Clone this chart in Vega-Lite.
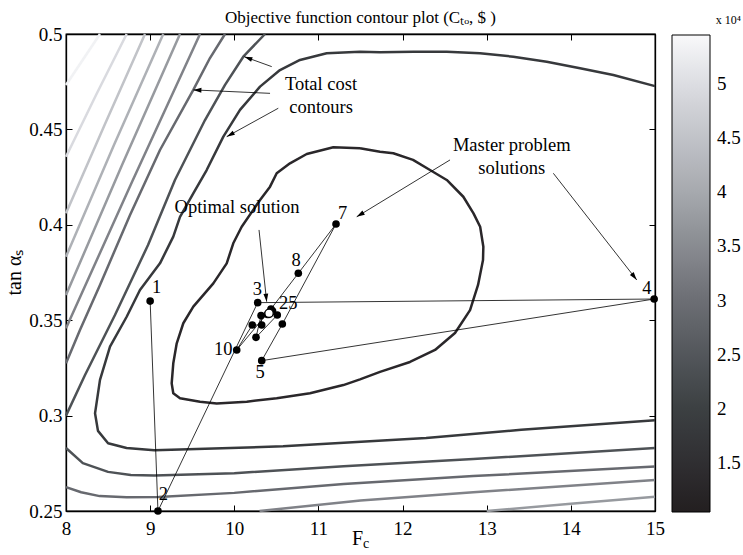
{
  "$schema": "https://vega.github.io/schema/vega-lite/v6.json",
  "width": 589,
  "height": 477,
  "autosize": {"type": "none"},
  "padding": {"left": 66, "top": 34, "right": 88, "bottom": 44},
  "background": "white",
  "title": {"text": "Objective function contour plot (Cₜₒ, $ )", "fontSize": 17, "font": "Liberation Serif", "fontWeight": "normal", "color": "#000", "offset": -12},
  "datasets": {
    "contours": [
      {"c":"L1","lvl":1.3,"i":0,"x":11.494,"y":0.4401},
      {"c":"L1","lvl":1.3,"i":1,"x":11.177,"y":0.4406},
      {"c":"L1","lvl":1.3,"i":2,"x":10.861,"y":0.4371},
      {"c":"L1","lvl":1.3,"i":3,"x":10.662,"y":0.4322},
      {"c":"L1","lvl":1.3,"i":4,"x":10.504,"y":0.427},
      {"c":"L1","lvl":1.3,"i":5,"x":10.425,"y":0.42},
      {"c":"L1","lvl":1.3,"i":6,"x":10.306,"y":0.413},
      {"c":"L1","lvl":1.3,"i":7,"x":10.088,"y":0.399},
      {"c":"L1","lvl":1.3,"i":8,"x":9.988,"y":0.3903},
      {"c":"L1","lvl":1.3,"i":9,"x":9.91,"y":0.3798},
      {"c":"L1","lvl":1.3,"i":10,"x":9.751,"y":0.3693},
      {"c":"L1","lvl":1.3,"i":11,"x":9.513,"y":0.3571},
      {"c":"L1","lvl":1.3,"i":12,"x":9.394,"y":0.3484},
      {"c":"L1","lvl":1.3,"i":13,"x":9.316,"y":0.3379},
      {"c":"L1","lvl":1.3,"i":14,"x":9.275,"y":0.3274},
      {"c":"L1","lvl":1.3,"i":15,"x":9.256,"y":0.3169},
      {"c":"L1","lvl":1.3,"i":16,"x":9.275,"y":0.3117},
      {"c":"L1","lvl":1.3,"i":17,"x":9.355,"y":0.3091},
      {"c":"L1","lvl":1.3,"i":18,"x":9.593,"y":0.3073},
      {"c":"L1","lvl":1.3,"i":19,"x":9.791,"y":0.3064},
      {"c":"L1","lvl":1.3,"i":20,"x":10.148,"y":0.3073},
      {"c":"L1","lvl":1.3,"i":21,"x":10.504,"y":0.3091},
      {"c":"L1","lvl":1.3,"i":22,"x":10.9,"y":0.3117},
      {"c":"L1","lvl":1.3,"i":23,"x":11.296,"y":0.316},
      {"c":"L1","lvl":1.3,"i":24,"x":11.494,"y":0.319},
      {"c":"L1","lvl":1.3,"i":25,"x":11.732,"y":0.3229},
      {"c":"L1","lvl":1.3,"i":26,"x":12.088,"y":0.3281},
      {"c":"L1","lvl":1.3,"i":27,"x":12.386,"y":0.3344},
      {"c":"L1","lvl":1.3,"i":28,"x":12.623,"y":0.3433},
      {"c":"L1","lvl":1.3,"i":29,"x":12.802,"y":0.3553},
      {"c":"L1","lvl":1.3,"i":30,"x":12.897,"y":0.3685},
      {"c":"L1","lvl":1.3,"i":31,"x":12.956,"y":0.3816},
      {"c":"L1","lvl":1.3,"i":32,"x":12.96,"y":0.3885},
      {"c":"L1","lvl":1.3,"i":33,"x":12.922,"y":0.399},
      {"c":"L1","lvl":1.3,"i":34,"x":12.843,"y":0.406},
      {"c":"L1","lvl":1.3,"i":35,"x":12.722,"y":0.4147},
      {"c":"L1","lvl":1.3,"i":36,"x":12.525,"y":0.4235},
      {"c":"L1","lvl":1.3,"i":37,"x":12.326,"y":0.4287},
      {"c":"L1","lvl":1.3,"i":38,"x":12.124,"y":0.434},
      {"c":"L1","lvl":1.3,"i":39,"x":11.89,"y":0.4375},
      {"c":"L1","lvl":1.3,"i":40,"x":11.732,"y":0.4383},
      {"c":"L1","lvl":1.3,"i":41,"x":11.494,"y":0.4401},
      {"c":"L2","lvl":1.8,"i":0,"x":15,"y":0.4727},
      {"c":"L2","lvl":1.8,"i":1,"x":14.505,"y":0.4785},
      {"c":"L2","lvl":1.8,"i":2,"x":14.109,"y":0.482},
      {"c":"L2","lvl":1.8,"i":3,"x":13.713,"y":0.4855},
      {"c":"L2","lvl":1.8,"i":4,"x":13.316,"y":0.4881},
      {"c":"L2","lvl":1.8,"i":5,"x":12.92,"y":0.4899},
      {"c":"L2","lvl":1.8,"i":6,"x":12.525,"y":0.4907},
      {"c":"L2","lvl":1.8,"i":7,"x":12.128,"y":0.4907},
      {"c":"L2","lvl":1.8,"i":8,"x":11.732,"y":0.4904},
      {"c":"L2","lvl":1.8,"i":9,"x":11.494,"y":0.4907},
      {"c":"L2","lvl":1.8,"i":10,"x":11.098,"y":0.4899},
      {"c":"L2","lvl":1.8,"i":11,"x":10.781,"y":0.4864},
      {"c":"L2","lvl":1.8,"i":12,"x":10.543,"y":0.4811},
      {"c":"L2","lvl":1.8,"i":13,"x":10.306,"y":0.4724},
      {"c":"L2","lvl":1.8,"i":14,"x":10.068,"y":0.4602},
      {"c":"L2","lvl":1.8,"i":15,"x":9.87,"y":0.4462},
      {"c":"L2","lvl":1.8,"i":16,"x":9.672,"y":0.4287},
      {"c":"L2","lvl":1.8,"i":17,"x":9.513,"y":0.4165},
      {"c":"L2","lvl":1.8,"i":18,"x":9.355,"y":0.4042},
      {"c":"L2","lvl":1.8,"i":19,"x":9.275,"y":0.3938},
      {"c":"L2","lvl":1.8,"i":20,"x":9.117,"y":0.3798},
      {"c":"L2","lvl":1.8,"i":21,"x":8.879,"y":0.3658},
      {"c":"L2","lvl":1.8,"i":22,"x":8.721,"y":0.3518},
      {"c":"L2","lvl":1.8,"i":23,"x":8.523,"y":0.3361},
      {"c":"L2","lvl":1.8,"i":24,"x":8.404,"y":0.3187},
      {"c":"L2","lvl":1.8,"i":25,"x":8.345,"y":0.3012},
      {"c":"L2","lvl":1.8,"i":26,"x":8.38,"y":0.292},
      {"c":"L2","lvl":1.8,"i":27,"x":8.5,"y":0.2855},
      {"c":"L2","lvl":1.8,"i":28,"x":8.72,"y":0.283},
      {"c":"L2","lvl":1.8,"i":29,"x":9.05,"y":0.2818},
      {"c":"L2","lvl":1.8,"i":30,"x":10.58,"y":0.2839},
      {"c":"L2","lvl":1.8,"i":31,"x":12.28,"y":0.2882},
      {"c":"L2","lvl":1.8,"i":32,"x":13.41,"y":0.2926},
      {"c":"L2","lvl":1.8,"i":33,"x":15,"y":0.2975},
      {"c":"L3a","lvl":2.4,"i":0,"x":10.365,"y":0.5},
      {"c":"L3a","lvl":2.4,"i":1,"x":10.107,"y":0.4881},
      {"c":"L3a","lvl":2.4,"i":2,"x":9.89,"y":0.4733},
      {"c":"L3a","lvl":2.4,"i":3,"x":9.652,"y":0.4549},
      {"c":"L3a","lvl":2.4,"i":4,"x":9.295,"y":0.4235},
      {"c":"L3a","lvl":2.4,"i":5,"x":8.975,"y":0.3894},
      {"c":"L3a","lvl":2.4,"i":6,"x":8.582,"y":0.3527},
      {"c":"L3a","lvl":2.4,"i":7,"x":8.226,"y":0.3213},
      {"c":"L3a","lvl":2.4,"i":8,"x":8,"y":0.3},
      {"c":"L3b","lvl":2.4,"i":0,"x":8,"y":0.283},
      {"c":"L3b","lvl":2.4,"i":1,"x":8.2,"y":0.2751},
      {"c":"L3b","lvl":2.4,"i":2,"x":8.5,"y":0.2705},
      {"c":"L3b","lvl":2.4,"i":3,"x":8.77,"y":0.2689},
      {"c":"L3b","lvl":2.4,"i":4,"x":9.05,"y":0.2686},
      {"c":"L3b","lvl":2.4,"i":5,"x":10,"y":0.2698},
      {"c":"L3b","lvl":2.4,"i":6,"x":11.3,"y":0.2735},
      {"c":"L3b","lvl":2.4,"i":7,"x":12.84,"y":0.2772},
      {"c":"L3b","lvl":2.4,"i":8,"x":15,"y":0.283},
      {"c":"L4a","lvl":2.9,"i":0,"x":9.89,"y":0.5},
      {"c":"L4a","lvl":2.9,"i":1,"x":9.711,"y":0.4874},
      {"c":"L4a","lvl":2.9,"i":2,"x":9.513,"y":0.4707},
      {"c":"L4a","lvl":2.9,"i":3,"x":9.117,"y":0.4392},
      {"c":"L4a","lvl":2.9,"i":4,"x":8.761,"y":0.4051},
      {"c":"L4a","lvl":2.9,"i":5,"x":8.404,"y":0.3685},
      {"c":"L4a","lvl":2.9,"i":6,"x":8.166,"y":0.3449},
      {"c":"L4a","lvl":2.9,"i":7,"x":8,"y":0.3274},
      {"c":"L4b","lvl":2.9,"i":0,"x":8,"y":0.2625},
      {"c":"L4b","lvl":2.9,"i":1,"x":8.18,"y":0.2598},
      {"c":"L4b","lvl":2.9,"i":2,"x":8.4,"y":0.2578},
      {"c":"L4b","lvl":2.9,"i":3,"x":8.72,"y":0.2572},
      {"c":"L4b","lvl":2.9,"i":4,"x":9.1,"y":0.2573},
      {"c":"L4b","lvl":2.9,"i":5,"x":10,"y":0.2595},
      {"c":"L4b","lvl":2.9,"i":6,"x":11.3,"y":0.2642},
      {"c":"L4b","lvl":2.9,"i":7,"x":12.84,"y":0.2683},
      {"c":"L4b","lvl":2.9,"i":8,"x":15,"y":0.2733},
      {"c":"U5a","lvl":3.35,"i":0,"x":9.593,"y":0.5},
      {"c":"U5a","lvl":3.35,"i":1,"x":8.784,"y":0.4224},
      {"c":"U5a","lvl":3.35,"i":2,"x":8,"y":0.3458},
      {"c":"U5b","lvl":3.35,"i":0,"x":10.3,"y":0.25},
      {"c":"U5b","lvl":3.35,"i":1,"x":11.5,"y":0.2555},
      {"c":"U5b","lvl":3.35,"i":2,"x":12.84,"y":0.2598},
      {"c":"U5b","lvl":3.35,"i":3,"x":15,"y":0.2663},
      {"c":"U4a","lvl":3.75,"i":0,"x":9.355,"y":0.5},
      {"c":"U4a","lvl":3.75,"i":1,"x":8.666,"y":0.4313},
      {"c":"U4a","lvl":3.75,"i":2,"x":8,"y":0.3632},
      {"c":"U4b","lvl":3.75,"i":0,"x":13.0,"y":0.25},
      {"c":"U4b","lvl":3.75,"i":1,"x":14,"y":0.2538},
      {"c":"U4b","lvl":3.75,"i":2,"x":15,"y":0.2575},
      {"c":"U3","lvl":4.15,"i":0,"x":9.156,"y":0.5},
      {"c":"U3","lvl":4.15,"i":1,"x":8.57,"y":0.4418},
      {"c":"U3","lvl":4.15,"i":2,"x":8,"y":0.3833},
      {"c":"U2","lvl":4.5,"i":0,"x":8.939,"y":0.5},
      {"c":"U2","lvl":4.5,"i":1,"x":8.4635,"y":0.4528},
      {"c":"U2","lvl":4.5,"i":2,"x":8,"y":0.406},
      {"c":"U1","lvl":4.95,"i":0,"x":8.721,"y":0.5},
      {"c":"U1","lvl":4.95,"i":1,"x":8.357,"y":0.468},
      {"c":"U1","lvl":4.95,"i":2,"x":8,"y":0.4357},
      {"c":"U0","lvl":5.35,"i":0,"x":8.404,"y":0.5},
      {"c":"U0","lvl":5.35,"i":1,"x":8,"y":0.4733}
    ],
    "path": [
      {"k":1,"x":9.0,"y":0.36},
      {"k":2,"x":9.093,"y":0.25},
      {"k":3,"x":10.278,"y":0.3592},
      {"k":4,"x":14.99,"y":0.3611},
      {"k":5,"x":10.326,"y":0.3288},
      {"k":6,"x":10.571,"y":0.348},
      {"k":7,"x":11.209,"y":0.4004},
      {"k":8,"x":10.761,"y":0.3746},
      {"k":9,"x":10.436,"y":0.3559},
      {"k":10,"x":10.029,"y":0.3344},
      {"k":11,"x":10.214,"y":0.3475},
      {"k":12,"x":10.326,"y":0.3475},
      {"k":13,"x":10.318,"y":0.3524},
      {"k":14,"x":10.258,"y":0.341},
      {"k":15,"x":10.511,"y":0.3527},
      {"k":16,"x":10.455,"y":0.3548},
      {"k":17,"x":10.395,"y":0.353},
      {"k":18,"x":10.43,"y":0.3541},
      {"k":19,"x":10.405,"y":0.3534},
      {"k":20,"x":10.42,"y":0.3538},
      {"k":21,"x":10.41,"y":0.3535},
      {"k":22,"x":10.415,"y":0.3537},
      {"k":23,"x":10.412,"y":0.3535},
      {"k":24,"x":10.414,"y":0.3536},
      {"k":25,"x":10.413,"y":0.3536}
    ],
    "arrows": [
      {"x":10.445,"y":0.4829,"x2":10.119,"y2":0.4881,"heading":289.9},
      {"x":10.425,"y":0.4689,"x2":9.513,"y2":0.4707,"heading":272.5},
      {"x":10.523,"y":0.4611,"x2":9.91,"y2":0.4462,"heading":241.2},
      {"x":10.294,"y":0.3973,"x2":10.385,"y2":0.3597,"heading":173.9},
      {"x":12.564,"y":0.434,"x2":11.455,"y2":0.4042,"heading":238.7},
      {"x":13.792,"y":0.427,"x2":14.783,"y2":0.3711,"heading":142}
    ],
    "notes": [
      {"text":"Total cost","x":11.031,"y":0.4738},
      {"text":"contours","x":11.031,"y":0.4617},
      {"text":"Optimal solution","x":10.032,"y":0.4093},
      {"text":"Master problem","x":13.297,"y":0.4418},
      {"text":"solutions","x":13.297,"y":0.4298}
    ],
    "labels": [
      {"text":"1","x":9.078,"y":0.3676},
      {"text":"2","x":9.156,"y":0.2589},
      {"text":"3","x":10.274,"y":0.3662},
      {"text":"4","x":14.902,"y":0.3667},
      {"text":"5","x":10.306,"y":0.323},
      {"text":"7","x":11.289,"y":0.406},
      {"text":"8","x":10.734,"y":0.3816},
      {"text":"10","x":9.87,"y":0.3347},
      {"text":"25","x":10.642,"y":0.3589}
    ]
  },
  "resolve": {"axis": {"x": "independent", "y": "independent"}},
  "layer": [
    {
      "data": {"name": "contours"},
      "mark": {"type": "line", "strokeWidth": 2.5, "strokeJoin": "round"},
      "encoding": {
        "x": {"field": "x", "type": "quantitative", "scale": {"domain": [8, 15], "nice": false, "zero": false},
              "axis": {"orient": "bottom", "values": [8,9,10,11,12,13,14,15], "title": "F", "tickSize": -6, "labelPadding": 14, "titleX": 291, "titleY": 33, "titleBaseline": "alphabetic"}},
        "y": {"field": "y", "type": "quantitative", "scale": {"domain": [0.25, 0.5], "nice": false, "zero": false},
              "axis": {"orient": "left", "values": [0.25,0.3,0.35,0.4,0.45,0.5], "format": ".2~f", "title": "tan αₛ", "tickSize": -6, "labelPadding": 10, "titleX": -42, "titleY": 238}},
        "color": {"field": "lvl", "type": "quantitative",
                  "scale": {"domain": [1.043, 2, 3, 4, 5, 5.457], "range": ["#231f20", "#3c4042", "#6c6e74", "#a6a9ae", "#dcdde2", "#f8f8fa"]},
                  "legend": {"orient": "none", "legendX": 606, "legendY": -19, "direction": "vertical", "gradientLength": 477, "gradientThickness": 38,
                             "gradientStrokeColor": "#000", "gradientStrokeWidth": 1, "title": "x 10⁴", "titleFont": "Liberation Serif", "titleFontSize": 12,
                             "titleFontWeight": "normal", "titleColor": "#000", "titleAnchor": "end", "titlePadding": 8,
                             "values": [1.5,2,2.5,3,3.5,4,4.5,5], "format": "~g", "labelFont": "Liberation Serif", "labelFontSize": 19, "labelOffset": 7,
                             "labelOverlap": false, "labelColor": "#000"}},
        "detail": {"field": "c"},
        "order": {"field": "i", "type": "quantitative"}
      }
    },
    {
      "data": {"name": "path"},
      "mark": {"type": "line", "color": "#000", "strokeWidth": 0.8},
      "encoding": {
        "x": {"field": "x", "type": "quantitative", "axis": null},
        "y": {"field": "y", "type": "quantitative", "axis": null},
        "order": {"field": "k", "type": "quantitative"}
      }
    },
    {
      "data": {"name": "path"},
      "transform": [{"filter": "datum.k < 25"}],
      "mark": {"type": "circle", "color": "#000", "size": 58, "opacity": 1},
      "encoding": {
        "x": {"field": "x", "type": "quantitative", "axis": null},
        "y": {"field": "y", "type": "quantitative", "axis": null}
      }
    },
    {
      "data": {"name": "path"},
      "transform": [{"filter": "datum.k == 25"}],
      "mark": {"type": "point", "filled": true, "fill": "#fff", "stroke": "#000", "strokeWidth": 1.3, "size": 70, "opacity": 1},
      "encoding": {
        "x": {"field": "x", "type": "quantitative", "axis": null},
        "y": {"field": "y", "type": "quantitative", "axis": null}
      }
    },
    {
      "data": {"name": "arrows"},
      "mark": {"type": "rule", "color": "#000", "strokeWidth": 0.8},
      "encoding": {
        "x": {"field": "x", "type": "quantitative", "axis": null},
        "y": {"field": "y", "type": "quantitative", "axis": null},
        "x2": {"field": "x2"},
        "y2": {"field": "y2"}
      }
    },
    {
      "data": {"name": "arrows"},
      "mark": {"type": "point", "shape": "M0,0L-0.8,2.7L0.8,2.7Z", "size": 36, "filled": true, "color": "#000", "opacity": 1},
      "encoding": {
        "x": {"field": "x2", "type": "quantitative", "axis": null},
        "y": {"field": "y2", "type": "quantitative", "axis": null},
        "angle": {"field": "heading", "type": "quantitative", "scale": null}
      }
    },
    {
      "data": {"name": "notes"},
      "mark": {"type": "text", "font": "Liberation Serif", "fontSize": 18.5, "color": "#000", "align": "center", "baseline": "middle"},
      "encoding": {
        "x": {"field": "x", "type": "quantitative", "axis": null},
        "y": {"field": "y", "type": "quantitative", "axis": null},
        "text": {"field": "text"}
      }
    },
    {
      "data": {"name": "labels"},
      "mark": {"type": "text", "font": "Liberation Serif", "fontSize": 18.5, "color": "#000", "align": "center", "baseline": "middle"},
      "encoding": {
        "x": {"field": "x", "type": "quantitative", "axis": null},
        "y": {"field": "y", "type": "quantitative", "axis": null},
        "text": {"field": "text"}
      }
    },
    {
      "data": {"values": [{"text": "c", "x": 11.53, "y": 0.2306}]},
      "mark": {"type": "text", "font": "Liberation Serif", "fontSize": 14, "color": "#000", "align": "left", "baseline": "alphabetic"},
      "encoding": {
        "x": {"field": "x", "type": "quantitative", "axis": null},
        "y": {"field": "y", "type": "quantitative", "axis": null},
        "text": {"field": "text"}
      }
    },
    {
      "data": {"name": "path"},
      "mark": {"type": "point", "opacity": 0},
      "encoding": {
        "x": {"field": "x", "type": "quantitative", "axis": {"orient": "top", "values": [9,10,11,12,13,14], "labels": false, "title": null, "tickSize": -6}},
        "y": {"field": "y", "type": "quantitative", "axis": {"orient": "right", "values": [0.3,0.35,0.4,0.45], "labels": false, "title": null, "tickSize": -6}}
      }
    }
  ],
  "config": {
    "font": "Liberation Serif",
    "view": {"stroke": "#000", "strokeWidth": 1.3},
    "axis": {"domainColor": "#000", "domainWidth": 1.3, "tickColor": "#000", "tickWidth": 1, "labelColor": "#000", "labelFont": "Liberation Serif", "labelFontSize": 19, "titleColor": "#000", "titleFont": "Liberation Serif", "titleFontSize": 20, "titleFontWeight": "normal", "grid": false, "labelFlush": false}
  }
}
